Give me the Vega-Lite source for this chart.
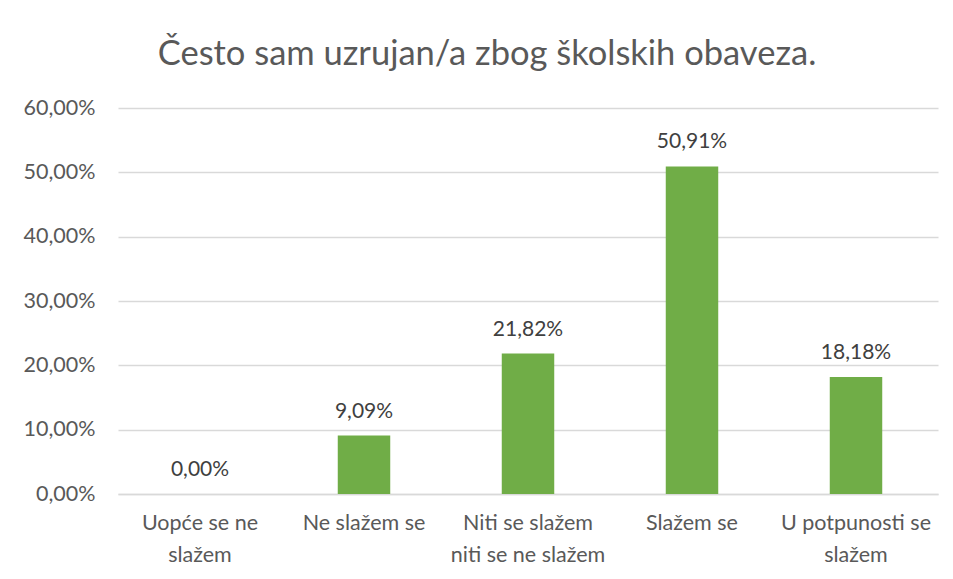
{
  "$schema": "https://vega.github.io/schema/vega-lite/v6.json",
  "width": 820,
  "height": 386,
  "autosize": {"type": "none"},
  "padding": {"left": 118, "top": 108, "right": 15, "bottom": 85},
  "background": "white",
  "data": {
    "values": [
      {"kategorija": "Uopće se ne slažem", "udio": 0.0},
      {"kategorija": "Ne slažem se", "udio": 9.09},
      {"kategorija": "Niti se slažem niti se ne slažem", "udio": 21.82},
      {"kategorija": "Slažem se", "udio": 50.91},
      {"kategorija": "U potpunosti se slažem", "udio": 18.18}
    ]
  },
  "title": {
    "text": "Često sam uzrujan/a zbog školskih obaveza.",
    "font": "Lato",
    "fontSize": 34.5,
    "fontWeight": "normal",
    "color": "#595959",
    "anchor": "middle",
    "dx": -41,
    "offset": 25
  },
  "config": {
    "view": {"stroke": null},
    "axis": {"labelFont": "Lato", "labelFontSize": 21.5, "labelColor": "#595959"}
  },
  "encoding": {
    "x": {
      "field": "kategorija",
      "type": "nominal",
      "sort": null,
      "scale": {"paddingInner": 0.68, "paddingOuter": 0.34},
      "axis": {
        "title": null,
        "labelAngle": 0,
        "ticks": false,
        "domainColor": "#d9d9d9",
        "domainWidth": 1.5,
        "labelPadding": 18,
        "labelLineHeight": 32,
        "labelBaseline": "top",
        "labelExpr": "datum.label == 'Uopće se ne slažem' ? ['Uopće se ne', 'slažem'] : datum.label == 'Niti se slažem niti se ne slažem' ? ['Niti se slažem', 'niti se ne slažem'] : datum.label == 'U potpunosti se slažem' ? ['U potpunosti se', 'slažem'] : datum.label"
      }
    },
    "y": {
      "field": "udio",
      "type": "quantitative",
      "scale": {"domain": [0, 60], "nice": false},
      "axis": {
        "title": null,
        "values": [0, 10, 20, 30, 40, 50, 60],
        "domain": false,
        "ticks": false,
        "gridColor": "#d9d9d9",
        "gridWidth": 1.3,
        "labelPadding": 23,
        "labelExpr": "replace(format(datum.value, '.2f'), '.', ',') + '%'"
      }
    }
  },
  "layer": [
    {"mark": {"type": "bar", "color": "#70ad47"}},
    {
      "transform": [{"calculate": "replace(format(datum.udio, '.2f'), '.', ',') + '%'", "as": "oznaka"}],
      "mark": {"type": "text", "font": "Lato", "fontSize": 21, "color": "#404040", "baseline": "alphabetic", "dy": -18},
      "encoding": {"text": {"field": "oznaka"}}
    }
  ]
}
